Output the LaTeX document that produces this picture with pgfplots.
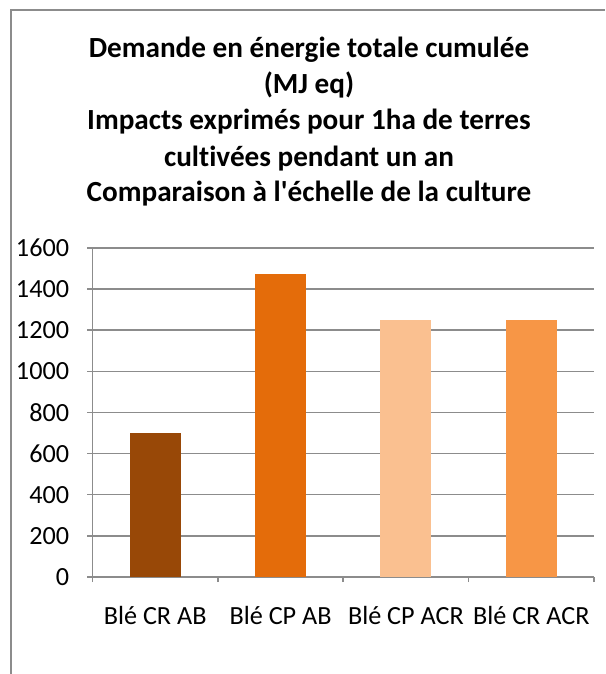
\documentclass[border=0pt]{standalone}
\usepackage{fontspec}
\setmainfont{Carlito}[Ligatures={TeXOff,NoCommon}]
\usepackage{pgfplots}
\pgfplotsset{compat=1.18}
\definecolor{gridgray}{HTML}{8C8C8C}
\definecolor{bara}{HTML}{984807}
\definecolor{barb}{HTML}{E46C0A}
\definecolor{barc}{HTML}{FAC090}
\definecolor{bard}{HTML}{F79646}
\begin{document}
\begin{tikzpicture}
  \path[use as bounding box] (0,0) rectangle (302.5pt,337pt);
  % chart frame (cropped on the right and bottom)
  \draw[gridgray, line width=1pt] (5.5pt,0) -- (5.5pt,332pt) -- (302.5pt,332pt);
  % title, one node per line
  \begin{scope}[every node/.style={anchor=base, inner sep=0pt,
        font=\bfseries\fontsize{14.6}{18}\selectfont}]
    \node at (154.5pt,308.4pt) {Demande en énergie totale cumulée};
    \node at (154.5pt,290.4pt) {(MJ eq)};
    \node at (154.5pt,272.1pt) {Impacts exprimés pour 1ha de terres};
    \node at (154.5pt,253.9pt) {cultivées pendant un an};
    \node at (154.5pt,236.2pt) {Comparaison à l'échelle de la culture};
  \end{scope}
  \begin{axis}[
      at={(46.25pt,48.5pt)}, anchor=south west,
      scale only axis,
      width=250.75pt, height=164.5pt,
      ybar, bar width=25.5pt, bar shift=0pt,
      xmin=-0.5, xmax=3.5,
      ymin=0, ymax=1600,
      ytick={0,200,...,1600},
      xtick={0,1,2,3},
      xticklabels={Blé CR AB, Blé CP AB, Blé CP ACR, Blé CR ACR},
      minor xtick={-0.5,0.5,1.5,2.5,3.5},
      axis x line*=bottom, axis y line*=left,
      axis line style={-, draw=gridgray, line width=0.75pt},
      ymajorgrids,
      major grid style={draw=gridgray, line width=0.75pt},
      tick align=outside,
      major tick length=2.5pt, minor tick length=2.5pt,
      xtick style={draw=none},
      minor x tick style={draw=gridgray, line width=0.75pt},
      ytick style={draw=gridgray, line width=0.75pt},
      /pgf/number format/assume math mode=true,
      /pgf/number format/set thousands separator={},
      tick label style={font=\fontsize{13.1}{15}\selectfont, inner sep=0pt},
      yticklabel style={anchor=east, xshift=-9pt},
      xticklabel style={anchor=base, yshift=-21pt},
    ]
    \addplot[fill=bara, draw=none] coordinates {(0,700)};
    \addplot[fill=barb, draw=none] coordinates {(1,1475)};
    \addplot[fill=barc, draw=none] coordinates {(2,1250)};
    \addplot[fill=bard, draw=none] coordinates {(3,1250)};
  \end{axis}
\end{tikzpicture}
\end{document}
